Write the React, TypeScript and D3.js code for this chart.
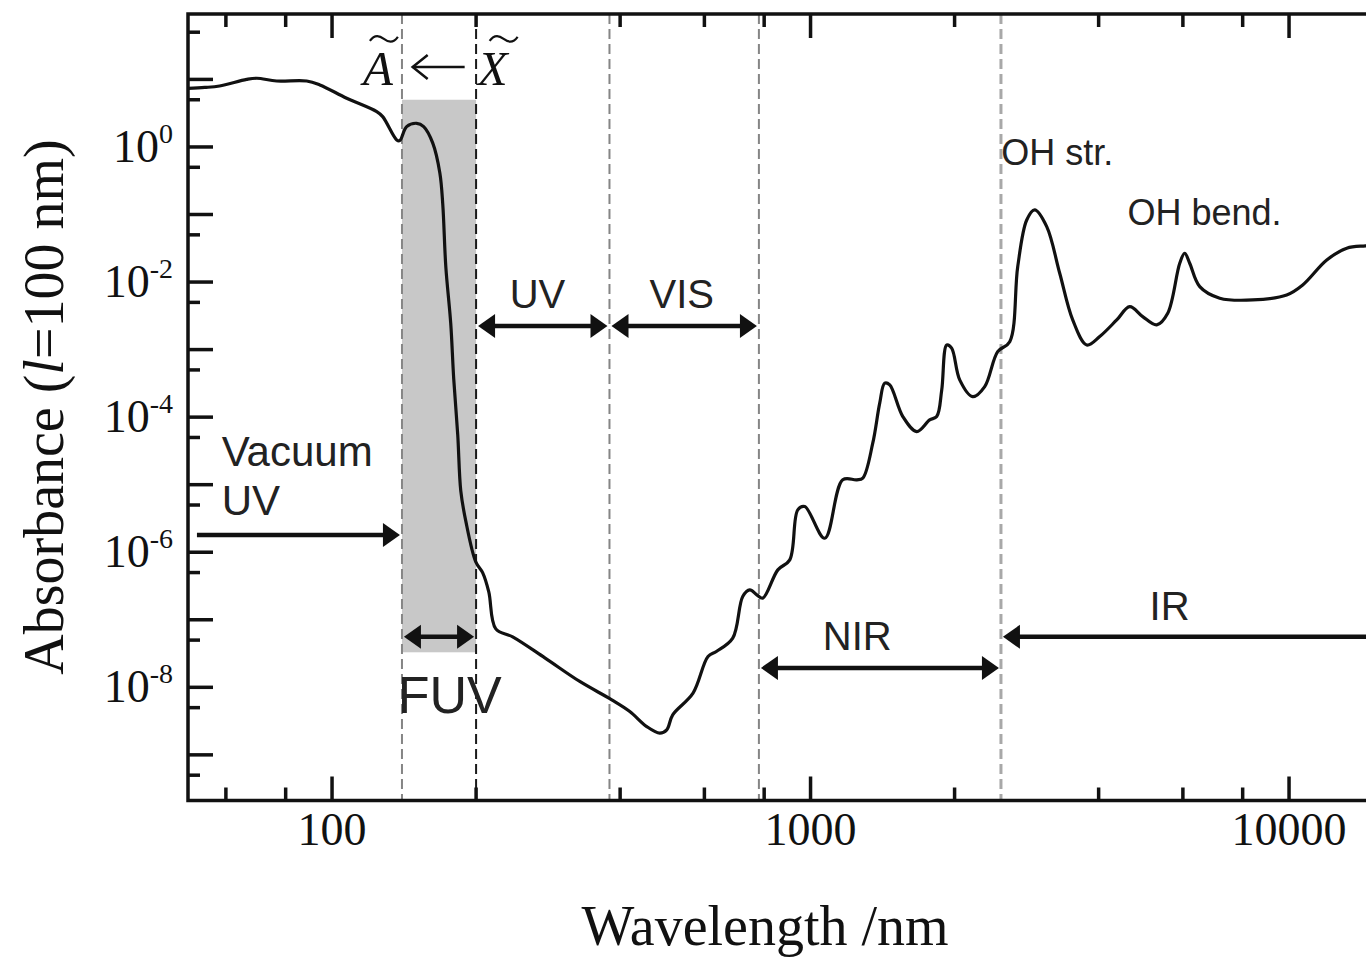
import React from "react";
import * as d3 from "d3";

// Spectrum: [wavelength nm, absorbance (l = 100 nm)]
const spectrum: [number, number][] = [
  [50, 7.35], [54.2, 7.6], [58.2, 8.0], [66.3, 10.0], [69.6, 10.4], [76.6, 9.48],
  [88.5, 9.48], [94.3, 8.28], [107.3, 5.26], [124.0, 3.33], [127.6, 2.81], [136.5, 1.27],
  [138.5, 1.24], [143.2, 2.0], [150.3, 2.24], [155.4, 2.0], [162.3, 1.15], [168.0, 0.412],
  [170.4, 0.139], [172.9, 0.0167], [177.0, 2.48e-3], [179.6, 3.68e-4], [183.1, 5.46e-5],
  [185.8, 8.09e-6], [190.3, 2.91e-6], [199.7, 7.19e-7], [206.5, 4.94e-7], [212.6, 2.59e-7],
  [219.9, 7.33e-8], [238.5, 5.58e-8], [278.4, 2.73e-8], [329.4, 1.22e-8], [384.2, 6.53e-9],
  [419, 4.39e-9], [454.7, 2.62e-9], [484.1, 2.1e-9], [500.6, 2.35e-9], [515.2, 3.92e-9],
  [568.1, 8.2e-9], [610.6, 2.86e-8], [635.6, 3.39e-8], [687.7, 5.35e-8], [721.6, 2.21e-7],
  [746.5, 2.77e-7], [772.1, 2.34e-7], [794.7, 2.09e-7], [854.3, 5.48e-7], [904.9, 7.71e-7],
  [940.4, 4.24e-6], [972.5, 4.74e-6], [1070.7, 1.61e-6], [1167.5, 1.18e-5], [1249.4, 1.18e-5],
  [1285.9, 1.25e-5], [1349, 4.11e-5], [1395, 1.61e-4], [1429, 3.18e-4], [1464, 3.0e-4],
  [1559, 1.02e-4], [1667, 6.11e-5], [1774, 9.1e-5], [1835, 1.02e-4], [1880, 2.53e-4],
  [1926, 1.17e-3], [1972, 1.05e-3], [2050, 3.56e-4], [2182, 2.01e-4], [2312, 2.83e-4],
  [2461, 9.33e-4], [2608, 1.31e-3], [2710, 0.0169], [2830, 0.083], [2941, 0.117],
  [3116, 0.0661], [3317, 0.0135], [3531, 2.75e-3], [3778, 1.17e-3], [4021, 1.56e-3],
  [4364, 2.75e-3], [4645, 4.33e-3], [4945, 3.08e-3], [5290, 2.32e-3], [5578, 3.45e-3],
  [5910, 0.019], [6053, 0.0267], [6200, 0.019], [6507, 8.55e-3], [7164, 5.77e-3],
  [8395, 5.43e-3], [9887, 6.44e-3], [10680, 9.06e-3], [11990, 0.0212], [13200, 0.0317],
  [14450, 0.0343], [17000, 0.0355],
];

const xMajorTicks = [100, 1000, 10000];
const xMinorTicks = [60, 80, 200, 400, 600, 800, 2000, 4000, 6000, 8000, 20000];
const yMajorTicks = [1e1, 1e0, 1e-1, 1e-2, 1e-3, 1e-4, 1e-5, 1e-6, 1e-7, 1e-8, 1e-9];
const yMinorTicks = [50, 5, 0.5, 0.05, 5e-3, 5e-4, 5e-5, 5e-6, 5e-7, 5e-8, 5e-9, 5e-10];
const yLabelExponents = [0, -2, -4, -6, -8];

// region boundaries (nm)
const boundaries = [
  { nm: 140, color: "#858585", width: 2 },
  { nm: 200, color: "#1a1a1a", width: 2 },
  { nm: 380, color: "#858585", width: 2 },
  { nm: 780, color: "#858585", width: 2 },
  { nm: 2500, color: "#a8a8a8", width: 3 },
];

const fuvBand = { from: 140, to: 200, low: 3.3e-8, high: 5 };

const rangeArrows = [
  { from: 52.2, to: 140, at: 1.8e-6, start: false, end: true },
  { from: 140, to: 200, at: 5.6e-8, start: true, end: true },
  { from: 200, to: 380, at: 2.24e-3, start: true, end: true },
  { from: 380, to: 780, at: 2.24e-3, start: true, end: true },
  { from: 780, to: 2500, at: 1.94e-8, start: true, end: true },
  { from: 2500, to: 20000, at: 5.6e-8, start: true, end: false },
];

const regionLabels = [
  { text: "Vacuum", nm: 58.8, a: 1.9e-5, anchor: "start", size: 42 },
  { text: "UV", nm: 58.8, a: 3.57e-6, anchor: "start", size: 42 },
  { text: "FUV", nm: 137.2, a: 4.19e-9, anchor: "start", size: 52 },
  { text: "UV", nm: 268.8, a: 4.14e-3, anchor: "middle", size: 40 },
  { text: "VIS", nm: 538, a: 4.14e-3, anchor: "middle", size: 40 },
  { text: "NIR", nm: 1252, a: 3.59e-8, anchor: "middle", size: 40 },
  { text: "IR", nm: 5628, a: 1.0e-7, anchor: "middle", size: 40 },
  { text: "OH str.", nm: 2505, a: 0.542, anchor: "start", size: 36 },
  { text: "OH bend.", nm: 4596, a: 0.07, anchor: "start", size: 36 },
];

const transition = { upperNm: 116, lowerNm: 201.5, a: 8.28, arrowFrom: 189.3, arrowTo: 147.4, arrowA: 15.3 };

const SERIF = "'Liberation Serif', 'Times New Roman', serif";
const SANS = "'Liberation Sans', Arial, sans-serif";
const INK = "#111";

export default function App() {
  const W = 1366;
  const H = 960;
  const left = 188;
  const top = 14;
  const bottom = 800.5;
  const decadePx = 478.5;
  const right = left + decadePx * Math.log10(20000 / 50);

  const x = d3.scaleLog().domain([50, 20000]).range([left, right]);
  const y = d3.scaleLog().domain([2.11e-10, 93]).range([bottom, top]);

  const line = d3
    .line<[number, number]>()
    .x((d) => x(d[0]))
    .y((d) => y(d[1]))
    .curve(d3.curveCatmullRom.alpha(0.5));

  const axisW = 3.5;
  const head = (tipX: number, yy: number, dir: number) => {
    const L = 17;
    const hw = 12;
    return `M${tipX},${yy} L${tipX + dir * L},${yy - hw} L${tipX + dir * L},${yy + hw} Z`;
  };

  const tilde = (cx: number, cy: number) =>
    `M${cx - 14},${cy + 2} C${cx - 9},${cy - 5} ${cx - 4},${cy - 3} ${cx},${cy} S${cx + 9},${cy + 5} ${cx + 14},${cy - 2}`;

  const ax = x(transition.upperNm);
  const xx = x(transition.lowerNm);
  const baseY = y(transition.a);
  const arrY = y(transition.arrowA);
  const arrL = x(transition.arrowTo);
  const arrR = x(transition.arrowFrom);

  return (
    <div style={{ position: "absolute", left: 0, top: 0, width: W, height: H, background: "#fff" }}>
      <svg width={W} height={H} viewBox={`0 0 ${W} ${H}`} style={{ display: "block" }}>
        <defs>
          <clipPath id="plotClip">
            <rect x={left} y={top} width={right - left} height={bottom - top} />
          </clipPath>
        </defs>
        <rect x={0} y={0} width={W} height={H} fill="#fff" />

        {/* FUV band */}
        <rect
          x={x(fuvBand.from)}
          y={y(fuvBand.high)}
          width={x(fuvBand.to) - x(fuvBand.from)}
          height={y(fuvBand.low) - y(fuvBand.high)}
          fill="#c8c8c8"
        />

        {/* region boundaries */}
        {boundaries.map((b, i) => (
          <line
            key={i}
            x1={x(b.nm)}
            x2={x(b.nm)}
            y1={top}
            y2={bottom}
            stroke={b.color}
            strokeWidth={b.width}
            strokeDasharray="10,5"
          />
        ))}

        {/* spectrum */}
        <g clipPath="url(#plotClip)">
          <path d={line(spectrum) || ""} fill="none" stroke={INK} strokeWidth={3.2} strokeLinejoin="round" />
        </g>

        {/* range arrows */}
        {rangeArrows.map((r, i) => {
          const x1 = x(r.from) + (r.start ? 2 : 0);
          const x2 = x(r.to) - (r.end ? 2 : 0);
          const yy = y(r.at);
          return (
            <g key={i}>
              <line
                x1={r.start ? x1 + 10 : x1}
                x2={r.end ? x2 - 10 : x2}
                y1={yy}
                y2={yy}
                stroke={INK}
                strokeWidth={4.5}
              />
              {r.start && <path d={head(x1, yy, 1)} fill={INK} />}
              {r.end && <path d={head(x2, yy, -1)} fill={INK} />}
            </g>
          );
        })}

        {/* region labels */}
        {regionLabels.map((l, i) => (
          <text
            key={i}
            x={x(l.nm)}
            y={y(l.a)}
            textAnchor={l.anchor as any}
            fontFamily={SANS}
            fontSize={l.size}
            fill="#222"
          >
            {l.text}
          </text>
        ))}

        {/* transition label  A <- X */}
        <text x={ax} y={baseY} fontFamily={SERIF} fontStyle="italic" fontSize={49} fill={INK}>
          A
        </text>
        <path d={tilde(ax + 21, baseY - 46)} fill="none" stroke={INK} strokeWidth={2.2} />
        <text x={xx} y={baseY} fontFamily={SERIF} fontStyle="italic" fontSize={49} fill={INK}>
          X
        </text>
        <path d={tilde(xx + 26, baseY - 46)} fill="none" stroke={INK} strokeWidth={2.2} />
        <line x1={arrL} x2={arrR} y1={arrY} y2={arrY} stroke={INK} strokeWidth={2.5} />
        <path
          d={`M${arrL + 15},${arrY - 12} L${arrL},${arrY} L${arrL + 15},${arrY + 12}`}
          fill="none"
          stroke={INK}
          strokeWidth={2.5}
        />

        {/* frame */}
        <rect x={left} y={top} width={right - left} height={bottom - top} fill="none" stroke={INK} strokeWidth={axisW} />

        {/* x ticks bottom and top */}
        {xMajorTicks.map((t) => (
          <g key={"xM" + t}>
            <line x1={x(t)} x2={x(t)} y1={bottom} y2={bottom - 24} stroke={INK} strokeWidth={axisW} />
            <line x1={x(t)} x2={x(t)} y1={top} y2={top + 24} stroke={INK} strokeWidth={axisW} />
            <text x={x(t)} y={845} textAnchor="middle" fontFamily={SERIF} fontSize={46} fill={INK}>
              {String(t)}
            </text>
          </g>
        ))}
        {xMinorTicks.map((t) => (
          <g key={"xm" + t}>
            <line x1={x(t)} x2={x(t)} y1={bottom} y2={bottom - 13} stroke={INK} strokeWidth={axisW} />
            <line x1={x(t)} x2={x(t)} y1={top} y2={top + 13} stroke={INK} strokeWidth={axisW} />
          </g>
        ))}

        {/* y ticks */}
        {yMajorTicks.map((t) => (
          <line key={"yM" + t} x1={left} x2={left + 25} y1={y(t)} y2={y(t)} stroke={INK} strokeWidth={axisW} />
        ))}
        {yMinorTicks.map((t) => (
          <line key={"ym" + t} x1={left} x2={left + 12} y1={y(t)} y2={y(t)} stroke={INK} strokeWidth={axisW} />
        ))}
        {yLabelExponents.map((e) => (
          <text key={"yl" + e} x={173} y={y(Math.pow(10, e)) + 15} textAnchor="end" fontFamily={SERIF} fontSize={46} fill={INK}>
            10
            <tspan dy={-19} fontSize={28}>
              {e === 0 ? "0" : "-" + String(-e)}
            </tspan>
          </text>
        ))}

        {/* axis titles */}
        <text x={765} y={945} textAnchor="middle" fontFamily={SERIF} fontSize={56} fill={INK}>
          Wavelength /nm
        </text>
        <text
          transform={`translate(63, ${407}) rotate(-90)`}
          textAnchor="middle"
          fontFamily={SERIF}
          fontSize={56}
          fill={INK}
        >
          Absorbance (<tspan fontStyle="italic">l</tspan>=100 nm)
        </text>
      </svg>
    </div>
  );
}
